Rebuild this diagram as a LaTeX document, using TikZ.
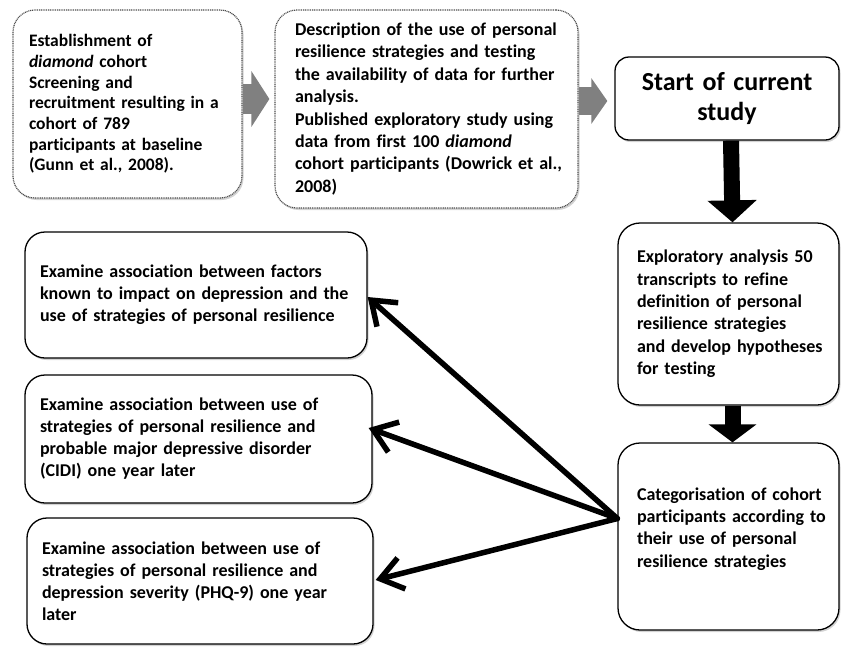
\documentclass[tikz,border=0pt]{standalone}
\usepackage{fontspec}
\setmainfont{Carlito}[RawFeature={-liga}]
\usetikzlibrary{arrows.meta,shadows,calc}
\tikzset{
  box/.style={draw=black, line width=1.3pt, rounded corners=22pt, fill=white, align=left,
    font=\bfseries\fontsize{18}{22}\selectfont,
    execute at begin node={\hyphenpenalty=10000 \exhyphenpenalty=10000},
    drop shadow={shadow xshift=1.5pt, shadow yshift=-2pt, opacity=0.35}},
  dotbox/.style={box, draw=black!70, line width=1.2pt, dash pattern=on 1pt off 0.8pt},
  greyarrow/.style={draw=black!50, line width=30pt, -{Triangle[length=18pt,width=55pt]}},
  blockarrow/.style={draw=black, line width=16pt, -{Triangle[length=22pt,width=48pt]}},
  barbarrow/.style={draw=black, line width=5.5pt, line cap=round, line join=round,
    -{Straight Barb[length=22pt,width=32pt,line width=5.5pt]}},
}
\begin{document}
\begin{tikzpicture}[x=1pt,y=-1pt]
\useasboundingbox (0,0) rectangle (841,646);
% top row
\node[dotbox, minimum width=229pt, minimum height=188pt, text width=209pt, inner xsep=10pt,
  font=\bfseries\fontsize{17.5}{20.7}\selectfont] (b1) at (127.5,104)
  {\hspace*{6pt}Establishment of\\ \hspace*{6pt}\textit{diamond} cohort\\ \hspace*{6pt}Screening and\\ \hspace*{6pt}recruitment resulting in a\\ \hspace*{6pt}cohort of 789\\ \hspace*{6pt}participants at baseline\\ \hspace*{6pt}(Gunn et al., 2008).};
\node[dotbox, minimum width=303pt, minimum height=198pt, text width=275pt, inner xsep=14pt,
  font=\bfseries\fontsize{18}{22.4}\selectfont] (b2) at (426.5,109)
  {\hspace*{6pt}Description of the use of personal\\ \hspace*{6pt}resilience strategies and testing\\ \hspace*{6pt}the availability of data for further\\ \hspace*{6pt}analysis.\\ \hspace*{6pt}Published exploratory study using\\ \hspace*{6pt}data from first 100 \textit{diamond}\\ \hspace*{6pt}cohort participants (Dowrick et al.,\\ \hspace*{6pt}2008)};
\node[box, rounded corners=14pt, minimum width=224pt, minimum height=83pt, text width=200pt, inner xsep=12pt, align=center,
  font=\bfseries\fontsize{26}{30}\selectfont] (b3) at (727,98.5)
  {Start of current\\ study};
% right column
\node[box, minimum width=221pt, minimum height=182pt, text width=201pt, inner xsep=10pt,
  font=\bfseries\fontsize{18}{22.4}\selectfont] (b4) at (728.5,314)
  {\hspace*{9pt}Exploratory analysis 50\\ \hspace*{9pt}transcripts to refine\\ \hspace*{9pt}definition of personal\\ \hspace*{9pt}resilience strategies\\ \hspace*{9pt}and develop hypotheses\\ \hspace*{9pt}for testing};
\node[box, minimum width=221pt, minimum height=187pt, text width=201pt, inner xsep=10pt,
  font=\bfseries\fontsize{18}{22.4}\selectfont] (b5) at (728.5,536.5)
  {\hspace*{9pt}Categorisation of cohort\\ \hspace*{9pt}participants according to\\ \hspace*{9pt}their use of personal\\ \hspace*{9pt}resilience strategies\\[-4pt] \mbox{}};
% left column
\node[box, rounded corners=20pt, minimum width=342pt, minimum height=126pt, text width=318pt, inner xsep=12pt] (ba) at (196,295)
  {\hspace*{3pt}Examine association between factors\\ \hspace*{3pt}known to impact on depression and the\\ \hspace*{3pt}use of strategies of personal resilience};
\node[box, rounded corners=20pt, minimum width=347pt, minimum height=128pt, text width=323pt, inner xsep=12pt] (bb) at (198.5,439)
  {\hspace*{3pt}Examine association between use of\\ \hspace*{3pt}strategies of personal resilience and\\ \hspace*{3pt}probable major depressive disorder\\ \hspace*{3pt}(CIDI) one year later};
\node[box, rounded corners=20pt, minimum width=346pt, minimum height=126pt, text width=322pt, inner xsep=12pt] (bc) at (200,581)
  {\hspace*{3pt}Examine association between use of\\ \hspace*{3pt}strategies of personal resilience and\\ \hspace*{3pt}depression severity (PHQ-9) one year\\ \hspace*{3pt}later};
% grey arrows
\draw[greyarrow, shorten >=5pt] ([yshift=5pt]b1.east) -- ([yshift=5pt]b1.east -| b2.west);
\draw[greyarrow, line width=28pt, -{Triangle[length=16pt,width=45pt]}, shorten >=7pt]
  ([yshift=8pt]b2.east) -- ([yshift=8pt]b2.east -| b3.west);
% block arrows
\draw[blockarrow] ([xshift=4pt]b3.south) -- ([xshift=4pt]b4.north);
\draw[blockarrow, -{Triangle[length=18pt,width=47pt]}] ([xshift=4pt]b4.south) -- ([xshift=4pt]b5.north);
% fan arrows
\coordinate (j) at ([yshift=18pt]b5.west);
\draw[barbarrow] (j) -- ([yshift=-2pt]ba.east);
\draw[barbarrow] (j) -- ([xshift=-4pt,yshift=11pt]bb.east);
\draw[barbarrow] (j) -- ([xshift=2pt,yshift=1pt]bc.east);
\end{tikzpicture}
\end{document}
